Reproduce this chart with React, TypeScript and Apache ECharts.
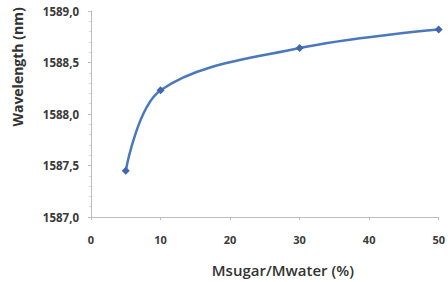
import React, { useEffect, useRef } from "react";
import * as echarts from "echarts";

const ratios = [5, 10, 30, 50];
const wavelengths = [1587.45, 1588.23, 1588.64, 1588.82];
const xTicks = [0, 10, 20, 30, 40, 50];

export default function App() {
  const ref = useRef<HTMLDivElement>(null);
  useEffect(() => {
    if (!ref.current) return;
    const chart = echarts.init(ref.current, null, { renderer: "svg" });
    const font = "'Open Sans', 'DejaVu Sans', sans-serif";
    chart.setOption({
      animation: false,
      backgroundColor: "#ffffff",
      grid: { left: 91, right: 5, top: 11, bottom: 61, containLabel: false },
      xAxis: {
        type: "value",
        min: 0,
        max: 50,
        interval: 10,
        name: "Msugar/Mwater (%)",
        nameLocation: "middle",
        nameGap: 45,
        nameTextStyle: { fontFamily: font, fontSize: 15, fontWeight: 600, color: "#333", padding: [0, 0, 0, 36] },
        axisLine: { lineStyle: { color: "#bdbdbd", width: 1 } },
        axisTick: { show: true, inside: false, length: 3, lineStyle: { color: "#bdbdbd" } },
        axisLabel: {
          fontFamily: font,
          fontSize: 11,
          fontWeight: "bold",
          color: "#3a3a3a",
          margin: 17,
          formatter: (v: number) => (xTicks.includes(v) ? String(v) : ""),
        },
        splitLine: { show: false },
      },
      yAxis: {
        type: "value",
        min: 1587,
        max: 1589,
        interval: 0.5,
        axisLine: { show: true, lineStyle: { color: "#bdbdbd", width: 1 } },
        axisTick: { show: true, length: 3, lineStyle: { color: "#bdbdbd" } },
        minorTick: { show: true, splitNumber: 5, length: 2, lineStyle: { color: "#d6d6d6" } },
        axisLabel: {
          fontFamily: font,
          fontSize: 11.5,
          fontWeight: "bold",
          color: "#3a3a3a",
          margin: 12,
          formatter: (v: number) => v.toFixed(1).replace(".", ","),
        },
        splitLine: { show: false },
      },
      graphic: [
        {
          type: "text",
          x: 17,
          y: 67,
          rotation: Math.PI / 2,
          style: {
            text: "Wavelength (nm)",
            fontFamily: font,
            fontSize: 14,
            fontWeight: "bold",
            fill: "#333",
            align: "center",
            verticalAlign: "middle",
          },
        },
      ],
      series: [
        {
          type: "line",
          data: ratios.map((r, i) => [r, wavelengths[i]]),
          smooth: 0.35,
          symbol: "diamond",
          symbolSize: 8,
          lineStyle: { color: "#4a78bd", width: 2.5 },
          itemStyle: { color: "#4166ad" },
          clip: false,
        },
      ],
    });
    return () => chart.dispose();
  }, []);
  return <div ref={ref} style={{ width: 448, height: 282, position: "absolute", left: 0, top: 0 }} />;
}
